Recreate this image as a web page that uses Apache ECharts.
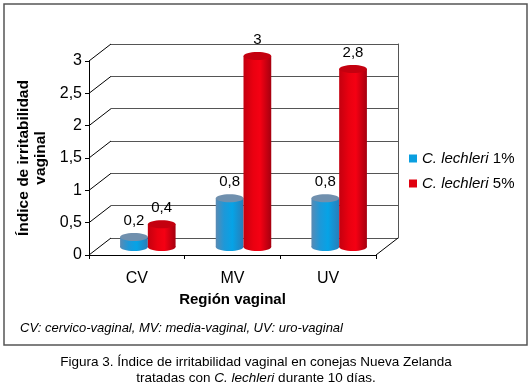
<!DOCTYPE html>
<html>
<head>
<meta charset="utf-8">
<script src="https://cdn.jsdelivr.net/npm/echarts@6/dist/echarts.min.js"></script>
<style>
  html, body { margin: 0; padding: 0; background: #fff; }
  #chart { width: 530px; height: 388px; }
</style>
</head>
<body>
<div id="chart"></div>
<script>
// datos
const regions = ['CV', 'MV', 'UV'];
const lechleri1 = [0.2, 0.8, 0.8];
const lechleri5 = [0.4, 3, 2.8];
const yTicks = [0, 0.5, 1, 1.5, 2, 2.5, 3];
const seriesNames = ['C. lechleri 1%', 'C. lechleri 5%'];

const FONT = 'Liberation Sans, Arial, sans-serif';
const DX = 22, DY = -17; // profundidad del "3D"

const fmt = v => String(v).replace('.', ',');

const blueBody = new echarts.graphic.LinearGradient(0, 0, 1, 0, [
  { offset: 0, color: '#5a8ab3' },
  { offset: 0.3, color: '#1e98d8' },
  { offset: 0.6, color: '#06a3e6' },
  { offset: 1, color: '#2a7db8' }
]);
const blueTop = '#7090ae';
const redBody = new echarts.graphic.LinearGradient(0, 0, 1, 0, [
  { offset: 0, color: '#c4000f' },
  { offset: 0.35, color: '#ea0010' },
  { offset: 0.6, color: '#f50013' },
  { offset: 1, color: '#a5000f' }
]);
const redTop = '#c4000f';

function cylinder(side, body, top) {
  return function (params, api) {
    const idx = api.value(0);
    const v = api.value(1);
    const band = api.size([1, 0])[0];
    const bw = band * 0.29;
    const c = api.coord([idx, v]);
    const b = api.coord([idx, 0]);
    const x = side === 0 ? c[0] + 11 - bw : c[0] + 11;
    const rx = bw / 2;
    const ry = 4;
    const topY = c[1] - 5;
    const botY = b[1] - 8;
    return {
      type: 'group',
      children: [
        { type: 'ellipse', shape: { cx: x + rx, cy: botY, rx: rx, ry: ry }, style: { fill: body } },
        { type: 'rect', shape: { x: x, y: topY, width: bw, height: botY - topY }, style: { fill: body } },
        { type: 'ellipse', shape: { cx: x + rx, cy: topY, rx: rx, ry: ry }, style: { fill: top } },
        {
          type: 'text',
          style: {
            text: fmt(v), x: x + rx, y: topY - ry - 12,
            align: 'center', verticalAlign: 'middle',
            fontSize: 15, fontFamily: FONT, fill: '#000'
          }
        }
      ]
    };
  };
}

const chart = echarts.init(document.getElementById('chart'), null, { renderer: 'canvas' });

const option = {
  animation: false,
  backgroundColor: '#fff',
  textStyle: { fontFamily: FONT },
  grid: [
    { left: 89, top: 61, width: 287, height: 194 },
    { left: 89 + DX, top: 61 + DY, width: 287, height: 194 }
  ],
  xAxis: [
    {
      type: 'category', gridIndex: 0, data: regions,
      axisLine: { lineStyle: { color: '#000', width: 1 } },
      axisTick: { show: true, length: 4, lineStyle: { color: '#000' } },
      axisLabel: { color: '#000', fontSize: 16, margin: 16 },
      name: 'Región vaginal', nameLocation: 'middle', nameGap: 37,
      nameTextStyle: { color: '#000', fontSize: 15, fontWeight: 'bold' }
    },
    {
      type: 'category', gridIndex: 1, data: regions, show: false
    }
  ],
  yAxis: [
    {
      type: 'value', gridIndex: 0, min: 0, max: 3, interval: 0.5,
      axisLine: { show: true, lineStyle: { color: '#000', width: 1 } },
      axisTick: { show: true, length: 4, lineStyle: { color: '#000' } },
      axisLabel: { color: '#000', fontSize: 16, margin: 7, formatter: fmt },
      splitLine: { show: false },
      name: 'Índice de irritabilidad\nvaginal', nameLocation: 'middle', nameGap: 36, nameRotate: 90,
      nameTextStyle: { color: '#000', fontSize: 15.5, fontWeight: 'bold', lineHeight: 17 }
    },
    {
      type: 'value', gridIndex: 1, min: 0, max: 3, interval: 0.5,
      position: 'right',
      axisLine: { show: true, lineStyle: { color: '#555', width: 1 } },
      axisTick: { show: false },
      axisLabel: { show: false },
      splitLine: { show: true, lineStyle: { color: '#555', width: 1 } }
    }
  ],
  legend: {
    orient: 'vertical', left: 404, top: 146, itemGap: 10,
    itemWidth: 8, itemHeight: 8, icon: 'rect',
    data: seriesNames,
    textStyle: { fontSize: 15, color: '#000', rich: { i: { fontStyle: 'italic', fontSize: 15 } } },
    formatter: name => '{i|' + name.split(' ').slice(0, 2).join(' ') + '} ' + name.split(' ')[2]
  },
  graphic: [
    { type: 'rect', shape: { x: 4, y: 4, width: 523, height: 341 }, style: { fill: null, stroke: '#555', lineWidth: 1.5 }, z: -1 },
    {
      type: 'text', x: 20, y: 322,
      style: { text: 'CV: cervico-vaginal, MV: media-vaginal, UV: uro-vaginal', font: 'italic 13px ' + FONT, fill: '#000' }
    },
    {
      type: 'text', x: 256, y: 362,
      style: {
        text: 'Figura 3. Índice de irritabilidad vaginal en conejas Nueva Zelanda',
        align: 'center', verticalAlign: 'middle', font: '13.5px ' + FONT, fill: '#000'
      }
    },
    {
      type: 'text', x: 256, y: 378,
      style: {
        text: 'tratadas con {i|C. lechleri} durante 10 días.',
        align: 'center', verticalAlign: 'middle', fontSize: 13.5, fontFamily: FONT, fill: '#000',
        rich: { i: { fontStyle: 'italic', fontSize: 13.5, fontFamily: FONT } }
      }
    }
  ],
  series: [
    {
      // lineas diagonales de la pared izquierda
      type: 'custom', xAxisIndex: 0, yAxisIndex: 0, silent: true, z: 1,
      data: yTicks.map(v => [0, v]),
      renderItem: function (params, api) {
        const c = api.coord([0, api.value(1)]);
        const x0 = c[0] - api.size([1, 0])[0] / 2;
        return { type: 'line', shape: { x1: x0, y1: c[1], x2: x0 + DX, y2: c[1] + DY }, style: { stroke: '#000', lineWidth: 1 } };
      }
    },
    {
      // diagonal del piso a la derecha
      type: 'custom', xAxisIndex: 0, yAxisIndex: 0, silent: true, z: 1,
      data: [[regions.length - 1, 0]],
      renderItem: function (params, api) {
        const c = api.coord([api.value(0), 0]);
        const x0 = c[0] + api.size([1, 0])[0] / 2;
        return { type: 'line', shape: { x1: x0, y1: c[1], x2: x0 + DX, y2: c[1] + DY }, style: { stroke: '#000', lineWidth: 1 } };
      }
    },
    {
      name: seriesNames[0], type: 'custom', xAxisIndex: 0, yAxisIndex: 0, z: 3,
      itemStyle: { color: '#0a9fe0' },
      data: lechleri1.map((v, i) => [i, v]),
      renderItem: cylinder(0, blueBody, blueTop)
    },
    {
      name: seriesNames[1], type: 'custom', xAxisIndex: 0, yAxisIndex: 0, z: 3,
      itemStyle: { color: '#e0000f' },
      data: lechleri5.map((v, i) => [i, v]),
      renderItem: cylinder(1, redBody, redTop)
    }
  ]
};

chart.setOption(option);
</script>
</body>
</html>
